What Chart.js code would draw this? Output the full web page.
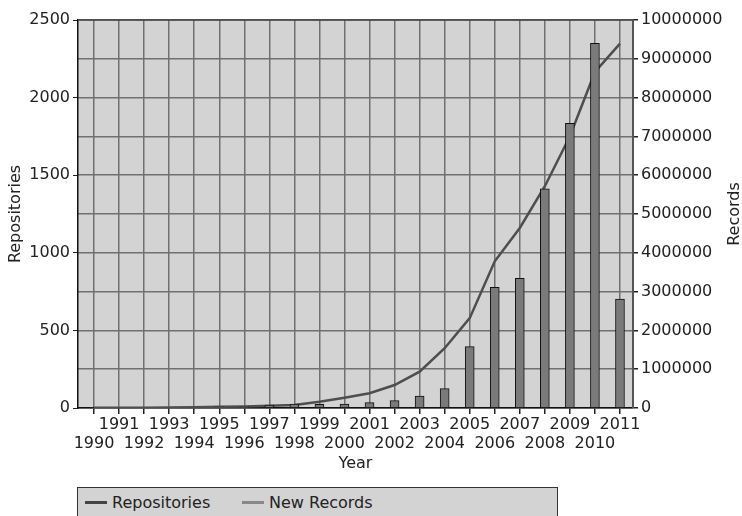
<!DOCTYPE html>
<html><head><meta charset="utf-8">
<script src="https://cdn.jsdelivr.net/npm/chart.js@4/dist/chart.umd.min.js"></script>
<style>
html,body{margin:0;padding:0;background:#fff;}
#wrap{position:relative;width:742px;height:516px;overflow:hidden;}
#legend{position:absolute;left:77px;top:487px;width:479px;height:40px;background:#d3d3d3;border:1.5px solid #333;font-family:"DejaVu Sans";font-size:16px;color:#222;}
.item{position:absolute;top:5px;line-height:20px;white-space:nowrap;}
.sw{display:inline-block;width:22px;height:3px;vertical-align:middle;margin-right:5px;position:relative;top:-1px;}
</style></head>
<body><div id="wrap"><canvas id="c" width="742" height="516"></canvas>
<div id="legend"><span class="item" style="left:7px"><span class="sw" style="background:#444"></span>Repositories</span><span class="item" style="left:164px"><span class="sw" style="background:#888"></span>New Records</span></div></div>
<script>
const years = [1990,1991,1992,1993,1994,1995,1996,1997,1998,1999,2000,2001,2002,2003,2004,2005,2006,2007,2008,2009,2010,2011];
const repositories = [1,1,2,3,5,8,10,15,20,40,66,95,148,234,385,579,945,1160,1429,1751,2165,2348];
const newRecords = [20000,null,null,null,null,30000,35000,75000,100000,95000,100000,137000,190000,310000,500000,1580000,3110000,3340000,5650000,7340000,9400000,2810000];
const leftTicks = [0,500,1000,1500,2000,2500];
const rightTicks = [0,1000000,2000000,3000000,4000000,5000000,6000000,7000000,8000000,9000000,10000000];
const rightTitle = 'Records';

Chart.defaults.font.family = 'DejaVu Sans';
Chart.defaults.font.size = 16;
Chart.defaults.color = '#222';

const bg = {
  id: 'bg',
  beforeDraw(c) {
    const a = c.chartArea, ctx = c.ctx;
    ctx.save();
    ctx.fillStyle = '#d3d3d3';
    ctx.fillRect(a.left, a.top, a.right - a.left, a.bottom - a.top);
    ctx.restore();
  },
  beforeDatasetsDraw(c) {
    const a = c.chartArea, ctx = c.ctx;
    ctx.save();
    ctx.strokeStyle = '#444';
    ctx.lineWidth = 1.5;
    ctx.beginPath();
    ctx.moveTo(a.left, a.top);
    ctx.lineTo(a.right, a.top);
    ctx.stroke();
    ctx.restore();
  },
  afterDraw(c) {
    const a = c.chartArea, ctx = c.ctx;
    ctx.save();
    ctx.translate(c.width - 7, (a.top + a.bottom) / 2);
    ctx.rotate(-Math.PI / 2);
    ctx.font = '16px "DejaVu Sans"';
    ctx.fillStyle = '#222';
    ctx.textAlign = 'center';
    ctx.textBaseline = 'middle';
    ctx.fillText(rightTitle, 0, 0);
    ctx.restore();
  }
};

new Chart(document.getElementById('c'), {
  type: 'bar',
  data: {
    datasets: [
      {
        type: 'line', label: 'Repositories',
        data: years.map((x, i) => ({x: x, y: repositories[i]})),
        yAxisID: 'y', borderColor: '#4e4e4e', borderWidth: 2.5,
        pointRadius: 0, tension: 0, fill: false, order: 1
      },
      {
        type: 'bar', label: 'New Records',
        data: years.map((x, i) => ({x: x, y: newRecords[i]})),
        yAxisID: 'y1', backgroundColor: '#7a7a7a', borderColor: '#111',
        borderWidth: 1, barThickness: 9, order: 0
      }
    ]
  },
  options: {
    responsive: false,
    animation: false,
    devicePixelRatio: 1,
    layout: {padding: {top: 20, bottom: 36, left: 0, right: 0}},
    plugins: {legend: {display: false}, tooltip: {enabled: false}},
    scales: {
      x: {
        type: 'linear', min: 1989.36, max: 2011.52, offset: false,
        afterBuildTicks: s => { s.ticks = years.map(v => ({value: v})); },
        afterFit: s => { s.height = 72; },
        grid: {offset: false, color: '#707070', lineWidth: 1.5, tickLength: 6, tickColor: '#222'},
        border: {color: '#111', width: 1.5},
        ticks: {
          autoSkip: false, maxRotation: 0, minRotation: 0, padding: 1,
          callback: v => (v % 2 ? [String(v), ''] : ['', String(v)])
        },
        title: {display: true, text: 'Year', padding: {top: 0, bottom: 7}}
      },
      y: {
        position: 'left', min: 0, max: 2500,
        afterBuildTicks: s => { s.ticks = leftTicks.map(v => ({value: v})); },
        afterFit: s => { s.width = 78; },
        grid: {drawOnChartArea: false, tickLength: 5, tickColor: '#222'},
        border: {color: '#111', width: 1.5},
        ticks: {padding: 3, callback: v => String(v)},
        title: {display: true, text: 'Repositories', padding: {top: 6, bottom: 0}}
      },
      y1: {
        position: 'right', min: 0, max: 10000000,
        afterBuildTicks: s => { s.ticks = rightTicks.map(v => ({value: v})); },
        afterFit: s => { s.width = 109; },
        grid: {drawOnChartArea: true, color: '#707070', lineWidth: 1.5, tickLength: 5, tickColor: '#222'},
        border: {color: '#555', width: 2},
        ticks: {padding: 3, callback: v => String(v)},
        title: {display: false}
      }
    }
  },
  plugins: [bg]
});
</script>
</body></html>
